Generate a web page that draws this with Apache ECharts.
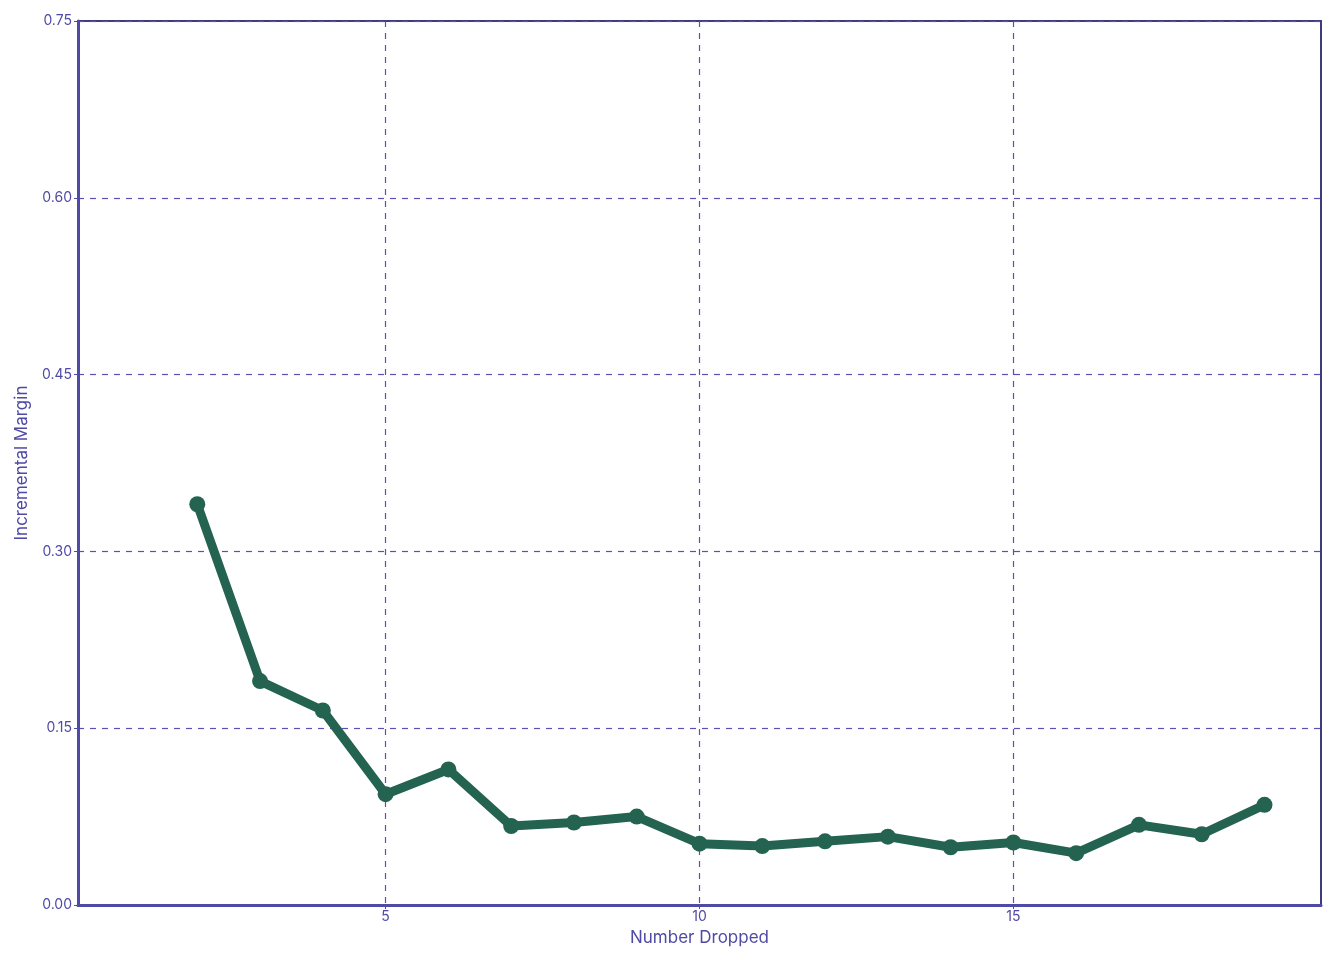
<!DOCTYPE html>
<html><head><meta charset="utf-8">
<script src="https://cdn.jsdelivr.net/npm/echarts@6/dist/echarts.min.js"></script>
<style>html,body{margin:0;padding:0;background:#fff}#c{width:1344px;height:960px}</style>
</head><body><div id="c"></div>
<script>
const numberDropped = [2,3,4,5,6,7,8,9,10,11,12,13,14,15,16,17,18,19];
const incrementalMargin = [0.340,0.190,0.165,0.094,0.115,0.067,0.070,0.075,0.052,0.050,0.054,0.058,0.049,0.053,0.044,0.068,0.060,0.085];
const xTicks = [5,10,15];
const yTicks = [0,0.15,0.30,0.45,0.60,0.75];

const txt = '#4f4aa5';
const font = 'Inter, "DejaVu Sans", sans-serif';
const chart = echarts.init(document.getElementById('c'), null, {renderer:'canvas'});
chart.setOption({
  animation:false,
  grid:{left:78,right:23,top:21,bottom:55,show:true,borderColor:'#3f3b7c',borderWidth:2,backgroundColor:'transparent',outerBoundsMode:'none',containLabel:false},
  xAxis:{type:'value',min:0.1,max:19.9,
    name:'Number Dropped',nameLocation:'middle',nameGap:17,
    nameTextStyle:{color:txt,fontSize:17,fontFamily:font},
    axisLine:{lineStyle:{color:'#4f4aa5',width:3}},
    axisTick:{show:true,length:4,customValues:xTicks,lineStyle:{color:txt}},
    axisLabel:{customValues:xTicks,color:txt,fontSize:14,fontFamily:font,margin:5,formatter:v=>String(v)},
    splitLine:{show:true,lineStyle:{color:'#5a4fb5',type:[6,6],width:1.2}}
  },
  yAxis:{type:'value',min:0,max:0.75,interval:0.15,
    name:'Incremental Margin',nameLocation:'middle',nameGap:48,
    nameTextStyle:{color:txt,fontSize:17,fontFamily:font},
    axisLine:{show:true,lineStyle:{color:'#4f4aa5',width:3}},
    axisTick:{show:true,length:4,lineStyle:{color:txt}},
    axisLabel:{color:txt,fontSize:14,fontFamily:font,margin:6,formatter:v=>v.toFixed(2)},
    splitLine:{show:true,lineStyle:{color:'#5a4fb5',type:[6,6],width:1.2}}
  },
  series:[{type:'line',data:numberDropped.map((x,i)=>[x,incrementalMargin[i]]),
    lineStyle:{color:'#246350',width:9},itemStyle:{color:'#246350'},
    symbol:'circle',symbolSize:16,showSymbol:true,z:5}]
});
</script></body></html>
